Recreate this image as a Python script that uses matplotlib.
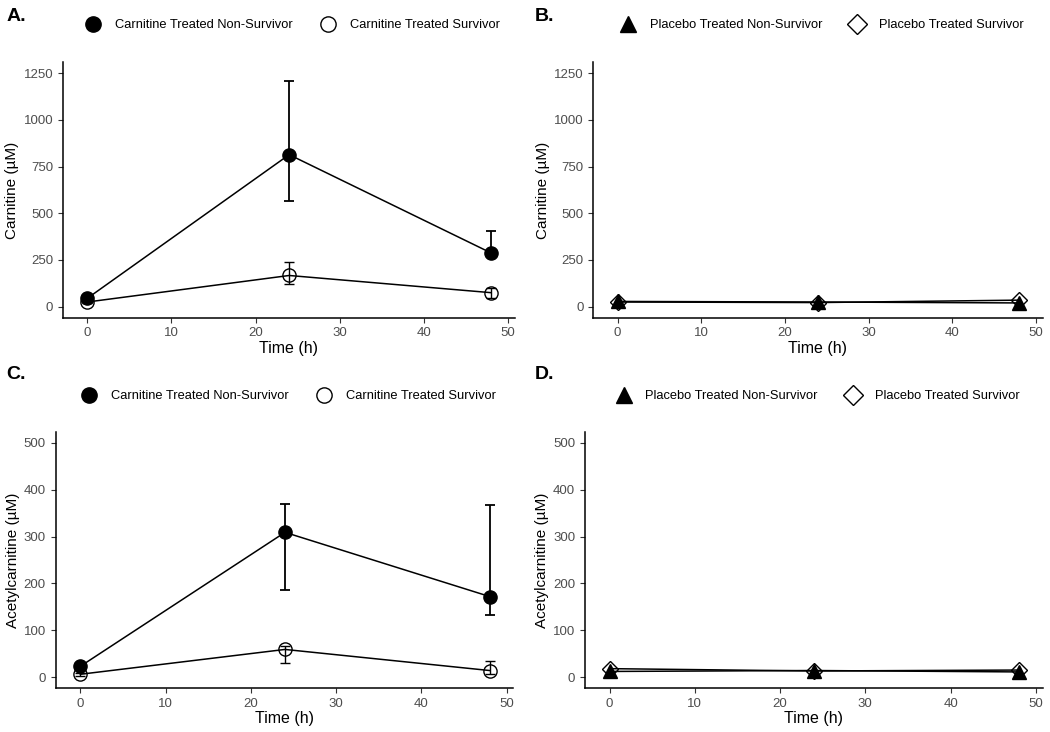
import matplotlib.pyplot as plt
from matplotlib.lines import Line2D

plt.rcParams["font.family"] = ["Liberation Sans", "DejaVu Sans"]

time_h = [0, 24, 48]

# carnitine (uM), carnitine-treated
carn_ns = [45, 814, 288]
carn_ns_lo = [35, 568, 270]
carn_ns_hi = [55, 1209, 405]
carn_s = [25, 167, 75]
carn_s_lo = [18, 119, 48]
carn_s_hi = [32, 240, 100]

# carnitine (uM), placebo
pl_carn_ns = [28, 25, 20]
pl_carn_s = [25, 22, 35]

# acetylcarnitine (uM), carnitine-treated
acet_ns = [23, 309, 172]
acet_ns_lo = [18, 186, 133]
acet_ns_hi = [28, 369, 367]
acet_s = [6, 59, 14]
acet_s_lo = [3, 29, 7]
acet_s_hi = [9, 66, 34]

# acetylcarnitine (uM), placebo
pl_acet_ns = [12, 14, 11]
pl_acet_s = [18, 13, 15]

fig = plt.figure(figsize=(10.5, 7.32), dpi=100)

grey = "#4D4D4D"


def style(ax, ylim, yticks, ylabel):
    ax.set_xlim(-2.9, 50.8)
    ax.set_ylim(*ylim)
    ax.set_xticks([0, 10, 20, 30, 40, 50])
    ax.set_yticks(yticks)
    for s in ["top", "right"]:
        ax.spines[s].set_visible(False)
    for s in ["left", "bottom"]:
        ax.spines[s].set_linewidth(1.1)
    ax.tick_params(labelsize=9.5, colors="#333333", labelcolor=grey, length=3.5, width=0.8)
    ax.set_xlabel("Time (h)", fontsize=11.5, labelpad=1)
    ax.set_ylabel(ylabel, fontsize=11, labelpad=3)


def errs(vals, lo, hi):
    return [[v - l for v, l in zip(vals, lo)], [h - v for v, h in zip(vals, hi)]]


def treated(ax, ns, ns_lo, ns_hi, s, s_lo, s_hi):
    ax.plot(time_h, ns, color="black", lw=1.1, marker="o", ms=9.5, mfc="black",
            mec="black", zorder=3)
    ax.plot(time_h, s, color="black", lw=1.1, marker="o", ms=9.5, mfc="none",
            mec="black", mew=1.0, zorder=3)
    ax.errorbar(time_h, ns, yerr=errs(ns, ns_lo, ns_hi), fmt="none", ecolor="black",
                elinewidth=1.3, capsize=3.8, capthick=1.3, zorder=4)
    ax.errorbar(time_h, s, yerr=errs(s, s_lo, s_hi), fmt="none", ecolor="black",
                elinewidth=1.0, capsize=3.8, capthick=1.0, zorder=4)
    return [
        Line2D([], [], ls="none", marker="o", ms=11, mfc="black", mec="black",
               label="Carnitine Treated Non-Survivor"),
        Line2D([], [], ls="none", marker="o", ms=11, mfc="none", mec="black", mew=1.0,
               label="Carnitine Treated Survivor"),
    ]


def placebo(ax, ns, s):
    ax.plot(time_h, ns, color="black", lw=1.1, marker="^", ms=10, mfc="black",
            mec="black", zorder=3)
    ax.plot(time_h, s, color="black", lw=1.1, marker="D", ms=8.5, mfc="none",
            mec="black", mew=1.0, zorder=3)
    return [
        Line2D([], [], ls="none", marker="^", ms=12, mfc="black", mec="black",
               label="Placebo Treated Non-Survivor"),
        Line2D([], [], ls="none", marker="D", ms=10, mfc="none", mec="black", mew=1.0,
               label="Placebo Treated Survivor"),
    ]


def legend(ax, handles, y):
    ax.legend(handles=handles, loc="center", bbox_to_anchor=(0.51, y),
              bbox_transform=ax.transAxes, ncol=2, frameon=False, fontsize=9.3,
              handlelength=1.0, columnspacing=2.2, handletextpad=1.2)


axA = fig.add_axes([0.060, 0.566, 0.430, 0.349])
h = treated(axA, carn_ns, carn_ns_lo, carn_ns_hi, carn_s, carn_s_lo, carn_s_hi)
style(axA, (-59, 1309), [0, 250, 500, 750, 1000, 1250], "Carnitine (\u00b5M)")
legend(axA, h, 1.145)

axB = fig.add_axes([0.565, 0.566, 0.428, 0.349])
h = placebo(axB, pl_carn_ns, pl_carn_s)
style(axB, (-59, 1309), [0, 250, 500, 750, 1000, 1250], "Carnitine (\u00b5M)")
legend(axB, h, 1.145)

axC = fig.add_axes([0.053, 0.060, 0.436, 0.350])
h = treated(axC, acet_ns, acet_ns_lo, acet_ns_hi, acet_s, acet_s_lo, acet_s_hi)
style(axC, (-23.5, 523.5), [0, 100, 200, 300, 400, 500], "Acetylcarnitine (\u00b5M)")
legend(axC, h, 1.14)

axD = fig.add_axes([0.557, 0.060, 0.436, 0.350])
h = placebo(axD, pl_acet_ns, pl_acet_s)
style(axD, (-23.5, 523.5), [0, 100, 200, 300, 400, 500], "Acetylcarnitine (\u00b5M)")
legend(axD, h, 1.14)

for lbl, x, y in [("A.", 0.006, 0.977), ("B.", 0.509, 0.977), ("C.", 0.006, 0.489), ("D.", 0.509, 0.489)]:
    fig.text(x, y, lbl, fontsize=14, fontweight="bold", va="center", ha="left")

fig.savefig("out.png", dpi=100)
